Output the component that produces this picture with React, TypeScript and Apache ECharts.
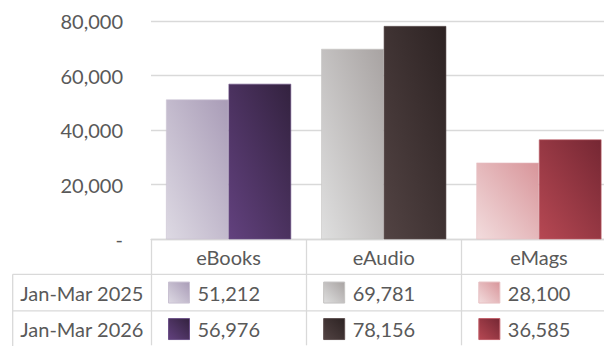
import React, { useEffect, useRef } from "react";
import * as echarts from "echarts";

const categories = ["eBooks", "eAudio", "eMags"];
const seriesNames = ["Jan-Mar 2025", "Jan-Mar 2026"];
const values2025 = [51212, 69781, 28100];
const values2026 = [56976, 78156, 36585];
const yMin = 0;
const yMax = 80000;
const yInterval = 20000;

// gradient colours [bottom-left, top-right] per category
const colors2025 = [
  ["#ddd9e3", "#a99cb7"],
  ["#dfdfdf", "#a8a3a2"],
  ["#f2dcdd", "#d8959a"],
];
const colors2026 = [
  ["#62417e", "#33223f"],
  ["#524343", "#2d2323"],
  ["#b64853", "#752733"],
];
const borders2025 = ["#c9c1d2", "#c4c2c1", "#e6bfc2"];
const borders2026 = ["#6d5288", "#5e5050", "#c0606a"];

const FONT = "Lato, 'Open Sans', sans-serif";
const TEXT = "#595959";
const LINE = "#d9d9d9";
const FS = 20;

const fmt = (v: number) => (v === 0 ? "-" : v.toLocaleString("en-US"));
const grad = (c: string[]) =>
  new echarts.graphic.LinearGradient(0, 1, 1, 0, [
    { offset: 0, color: c[0] },
    { offset: 1, color: c[1] },
  ]);

export default function App() {
  const ref = useRef<HTMLDivElement>(null);
  useEffect(() => {
    if (!ref.current) return;
    const chart = echarts.init(ref.current, null, { renderer: "svg" });
    const allValues = [values2025, values2026];
    const allColors = [colors2025, colors2026];
    const allBorders = [borders2025, borders2026];
    chart.setOption({
      animation: false,
      grid: {
        left: 151,
        right: 3.5,
        top: 21,
        bottom: 106.7,
        outerBoundsMode: "none",
        containLabel: false,
      },
      xAxis: {
        type: "category",
        data: categories,
        axisLine: { show: true, lineStyle: { color: LINE, width: 1.3 } },
        axisTick: {
          show: true,
          length: 106,
          interval: 0,
          lineStyle: { color: LINE, width: 1.3 },
        },
        axisLabel: {
          color: TEXT,
          fontFamily: FONT,
          fontSize: FS,
          margin: 8,
          lineHeight: 20,
        },
      },
      yAxis: {
        type: "value",
        min: yMin,
        max: yMax,
        interval: yInterval,
        axisLine: { show: false },
        axisTick: { show: false },
        splitLine: { lineStyle: { color: LINE, width: 1.3 } },
        axisLabel: {
          color: TEXT,
          fontFamily: FONT,
          fontSize: FS,
          margin: 28,
          formatter: (v: number) => fmt(v),
        },
      },
      series: allValues.map((vals, s) => ({
        type: "bar",
        name: seriesNames[s],
        barGap: "0%",
        barCategoryGap: "19.4%",
        data: vals.map((v, i) => ({
          value: v,
          itemStyle: {
            color: grad(allColors[s][i]),
            borderColor: allBorders[s][i],
            borderWidth: 0.6,
          },
        })),
      })),
    });

    // data table below the axis, positioned through the category axis scale
    const c0 = chart.convertToPixel({ xAxisIndex: 0 }, 0) as number;
    const c1 = chart.convertToPixel({ xAxisIndex: 0 }, 1) as number;
    const cw = c1 - c0;
    const yBase = chart.convertToPixel({ yAxisIndex: 0 }, 0) as number;
    const HEADER_H = 35;
    const ROW_H = 36.5;
    const LEFT = 12.7;
    const tableLeft = c0 - cw / 2;
    const tableRight = c0 + cw * (categories.length - 0.5);
    const bottom = yBase + HEADER_H + ROW_H * 2;
    const els: any[] = [];
    for (let r = 0; r <= 2; r++) {
      const y = yBase + HEADER_H + r * ROW_H;
      els.push({
        type: "line",
        shape: { x1: LEFT, y1: y, x2: tableRight, y2: y },
        style: { stroke: LINE, lineWidth: 1.3 },
        silent: true,
      });
    }
    els.push({
      type: "line",
      shape: { x1: LEFT, y1: yBase + HEADER_H, x2: LEFT, y2: bottom + 5 },
      style: { stroke: LINE, lineWidth: 1.3 },
      silent: true,
    });
    for (let r = 0; r < 2; r++) {
      const yMid = yBase + HEADER_H + r * ROW_H + ROW_H / 2;
      els.push({
        type: "text",
        x: (LEFT + tableLeft) / 2,
        y: yMid,
        style: {
          text: seriesNames[r],
          fill: TEXT,
          font: `${FS}px ${FONT}`,
          align: "center",
          verticalAlign: "middle",
        },
        silent: true,
      });
      for (let i = 0; i < categories.length; i++) {
        const cellLeft = c0 + (i - 0.5) * cw;
        els.push({
          type: "rect",
          shape: { x: cellLeft + 17.5, y: yMid - 10.5, width: 21, height: 21 },
          style: {
            fill: grad(allColors[r][i]),
            stroke: allBorders[r][i],
            lineWidth: 1,
          },
          silent: true,
        });
        els.push({
          type: "text",
          x: cellLeft + 46.5,
          y: yMid,
          style: {
            text: fmt(allValues[r][i]),
            fill: TEXT,
            font: `${FS}px ${FONT}`,
            align: "left",
            verticalAlign: "middle",
          },
          silent: true,
        });
      }
    }
    chart.setOption({ graphic: els });
    return () => chart.dispose();
  }, []);
  return (
    <div
      style={{
        position: "fixed",
        left: 0,
        top: 0,
        width: 604,
        height: 346,
        overflow: "hidden",
        background: "#fff",
      }}
    >
      <div ref={ref} style={{ width: 620, height: 346 }} />
    </div>
  );
}
